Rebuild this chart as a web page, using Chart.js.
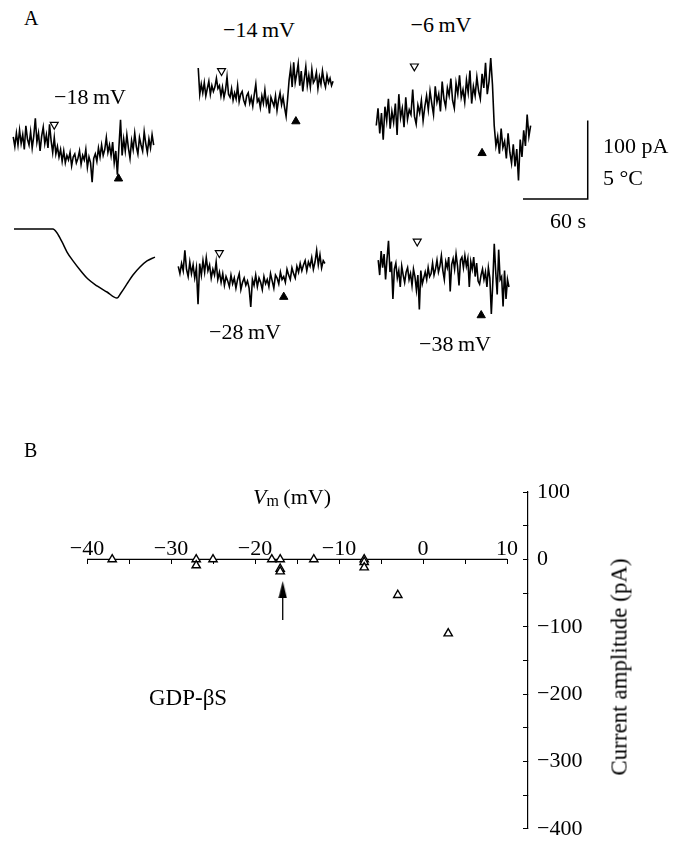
<!DOCTYPE html>
<html><head><meta charset="utf-8">
<script src="https://cdn.jsdelivr.net/npm/chart.js@4.4.1/dist/chart.umd.min.js"></script>
<style>
html,body{margin:0;padding:0;background:#fff;}
#fig{position:relative;width:674px;height:856px;overflow:hidden;font-family:"Liberation Serif","Times New Roman",serif;color:#000;background:#fff;}
.lbl{position:absolute;white-space:nowrap;line-height:1;transform:translate(-50%,-50%);font-size:22px;}
.lft{transform:translate(0,-50%);}
canvas{position:absolute;}
</style></head><body><div id="fig"></div>
<script>
// ---------------- DATA ----------------
// Panel A: membrane-current traces (pA, relative to start) at holding potentials
const traceLabels = ['\u221218\u2009mV', '\u221214\u2009mV', '\u22126\u2009mV', '\u221228\u2009mV', '\u221238\u2009mV'];
const traceDurations = [133, 128, 143, 138.6, 124.4]; // seconds spanned by each trace
const traceM18 = [5,-8,10,-6,14,-4,8,-12,20,2,-6,12,-10,6,30,-2,10,-14,6,18,
  -4,8,-10,22,0,-16,4,-18,-8,-22,-12,-28,-14,-30,-20,-26,-16,-34,-22,-18,
  -30,-24,-14,-32,-20,-26,-12,-36,-22,-30,-56,-24,-18,-28,-10,-22,-6,-20,-12,4,
  -16,-6,-20,-2,-30,-14,-46,-8,28,-20,2,-14,8,-10,-24,0,-12,10,-8,-18,
  4,-6,-14,12,-4,-16,2,-10,8,-6];
const traceM14 = [30,-6,8,-4,10,-8,2,12,-6,6,
  -2,4,16,2,6,-8,4,-10,0,18,
  -6,-10,2,-14,-4,-12,6,-16,-6,-2,
  -14,-20,-8,-4,-18,-10,-22,-6,8,-16,
  -12,-24,-8,-18,0,-20,-12,-32,-10,-16,
  -22,-8,-28,-14,-4,-20,-10,-24,-36,-12,
  14,30,4,38,10,22,36,6,26,-2,
  16,32,6,20,4,28,10,14,24,2,
  18,8,26,12,4,20,10,16,6,12];
const traceM6 = [-10,12,-20,6,-28,14,-4,24,-14,8,
  -6,18,-22,30,0,12,-12,26,-2,10,
  4,36,2,-8,16,6,22,-4,14,28,
  10,34,18,4,40,20,30,8,46,24,
  14,38,28,50,22,12,44,30,54,26,
  36,20,48,32,60,18,40,28,52,34,
  24,56,38,70,30,46,76,42,-10,-36,
  -24,-46,-14,-38,-30,-52,-20,-44,-58,-34,
  -62,-40,-80,-28,-50,-16,-36,4,-24,-10];
const traceM28 = [4,-6,8,-2,26,0,-10,10,-6,6,
  -12,2,-48,8,-8,12,-4,16,-2,6,
  -12,0,-8,10,-14,-4,-18,-6,-22,-10,
  -16,-24,-8,-20,-12,-26,-14,-6,-28,-18,
  -12,-22,-16,-26,-52,-14,-22,-8,-24,-12,
  -18,-28,-10,-20,-14,-24,-6,-16,-26,-8,
  -12,-20,-4,-14,-10,-18,0,-8,-14,2,
  -6,-12,4,-4,8,-2,6,12,-2,10,
  4,16,0,10,26,6,20,2,12,8];
const traceM38 = [6,-14,18,-4,14,-20,8,32,-10,4,
  -46,-6,2,-18,-8,-30,-2,-14,-24,-10,
  -4,-20,-12,-28,-6,-16,-34,-14,-60,-8,
  -26,-18,-10,-20,-4,-16,-12,2,-14,-6,
  6,-10,-2,12,-8,-20,4,-4,10,-36,
  0,8,-6,14,-2,-28,6,10,-4,12,
  -2,8,-30,4,-6,10,-16,2,-22,-26,
  -14,-6,-20,-10,-30,-4,-18,-66,-24,28,
  -10,-40,20,-20,-16,-56,-8,-46,-20,-30];
// open (▽) and filled (▲) markers: [time s, pA]
const openMarkers   = [[38.8,21.4],[22.1,26.2],[35.3,65.5],[38.8,22.6],[37.1,31]];
const filledMarkers = [[99.7,-51.2],[92.7,-42.9],[98,-45.2],[99.7,-38.1],[98,-67.9]];
// temperature protocol (°C relative to start)
const tempTime  = [0,34.4,38,42.4,46.8,52.1,58.3,65.3,73.3,82.1,90.9,94.4,99.7,105,111.2,117.4,124.4];
const tempDelta = [0,0,-0.24,-0.77,-1.37,-1.9,-2.44,-2.98,-3.39,-3.75,-4.11,-3.81,-3.27,-2.74,-2.26,-1.9,-1.67];
// scale bar
const scaleBarSeconds = 60, scaleBarPA = 100, scaleBarC = 5;

// Panel B: I–V relation (GDP-βS)
const vm  = [-37,-27,-27,-25,-18,-17,-17,-17,-13,-7,-7,-7,-3,3];
const amp = [0,0,-9,0,0,0,-14,-18,0,0,-4,-12,-53,-110];
const xTicks = [-40,-30,-20,-10,0,10];
const xTickLabels = ['\u221240','\u221230','\u221220','\u221210','0','10'];
const yTicks = [100,0,-100,-200,-300,-400];
const yTickLabels = ['100','0','\u2212100','\u2212200','\u2212300','\u2212400'];
const arrowVm = -16.7, arrowTail = -90, arrowHeadCenter = -44.7;

// ---------------- LAYOUT ----------------
const FONT = '"Liberation Serif","Times New Roman",serif';
const fig = document.getElementById('fig');
const PX_PER_S = 1.133, PX_PER_PA = 0.84, PX_PER_C = 16.8;
const traceLayout = [
  {rect:[0,95,170,100],  origin:[8,140]},
  {rect:[185,45,165,90], origin:[193,90]},
  {rect:[360,40,245,175],origin:[371,117]},
  {rect:[165,235,175,85],origin:[173,268]},
  {rect:[365,225,160,105],origin:[373,263]}
];
const tempLayout = {rect:[5,215,160,95], origin:[14,229]};
const scaleBarAnchor = {trace:2, t:195.9, y:-103.6};

function mkCanvas(r){
  const c=document.createElement('canvas');
  c.width=r[2]; c.height=r[3];
  c.style.left=r[0]+'px'; c.style.top=r[1]+'px';
  c.style.width=r[2]+'px'; c.style.height=r[3]+'px';
  fig.appendChild(c); return c;
}
function ranges(r,o,px,py){
  return {x:{type:'linear',display:false,min:(r[0]-o[0])/px,max:(r[0]+r[2]-o[0])/px},
          y:{type:'linear',display:false,min:(o[1]-r[1]-r[3])/py,max:(o[1]-r[1])/py}};
}
function baseOpts(scales){
  return {responsive:false,animation:false,events:[],devicePixelRatio:1,
    layout:{padding:0},plugins:{legend:{display:false},tooltip:{enabled:false}},scales};
}
const lineDs = (data,w)=>({data,showLine:true,borderColor:'#000',borderWidth:w,pointRadius:0,tension:0,clip:false,fill:false});

const traces=[traceM18,traceM14,traceM6,traceM28,traceM38];
traces.forEach((vals,k)=>{
  const L=traceLayout[k], dur=traceDurations[k];
  const pts=vals.map((v,i)=>({x:i*dur/(vals.length-1),y:v}));
  const ds=[
    {data:[{x:openMarkers[k][0],y:openMarkers[k][1]}],pointStyle:'triangle',rotation:180,pointRadius:4.6,
      backgroundColor:'#fff',borderColor:'#000',borderWidth:1.2,clip:false},
    {data:[{x:filledMarkers[k][0],y:filledMarkers[k][1]}],pointStyle:'triangle',rotation:0,pointRadius:4.8,
      backgroundColor:'#000',borderColor:'#000',borderWidth:1,clip:false},
    lineDs(pts,1.6)
  ];
  if(k===scaleBarAnchor.trace){
    const a=scaleBarAnchor;
    ds.push(lineDs([{x:a.t-scaleBarSeconds,y:a.y},{x:a.t,y:a.y},{x:a.t,y:a.y+scaleBarPA}],1.5));
  }
  new Chart(mkCanvas(L.rect),{type:'scatter',data:{datasets:ds},
    options:baseOpts(ranges(L.rect,L.origin,PX_PER_S,PX_PER_PA))});
});

new Chart(mkCanvas(tempLayout.rect),{type:'scatter',
  data:{datasets:[Object.assign(lineDs(tempTime.map((t,i)=>({x:t,y:tempDelta[i]})),1.5),{cubicInterpolationMode:'monotone'})]},
  options:baseOpts(ranges(tempLayout.rect,tempLayout.origin,PX_PER_S,PX_PER_C))});

// Panel B
const headImg=document.createElement('canvas'); headImg.width=9; headImg.height=17;
(function(){const g=headImg.getContext('2d');g.fillStyle='#000';g.beginPath();g.moveTo(4.5,0);g.lineTo(0.3,17);g.lineTo(8.7,17);g.closePath();g.fill();})();

const bRect=[0,440,674,416];
new Chart(mkCanvas(bRect),{type:'scatter',
  data:{datasets:[
    {data:vm.map((v,i)=>({x:v,y:amp[i]})),pointStyle:'triangle',pointRadius:4.8,backgroundColor:'#fff',
      borderColor:'#000',borderWidth:1.4,clip:false},
    {data:[{x:arrowVm,y:arrowHeadCenter}],pointStyle:headImg,pointRadius:5,clip:false},
    lineDs([{x:arrowVm,y:arrowTail},{x:arrowVm,y:arrowHeadCenter-6}],1.3),
    lineDs([{x:xTicks[0],y:0},{x:xTicks[xTicks.length-1],y:0}],1.2)
  ]},
  options:Object.assign(baseOpts({
    x:{type:'linear',min:-40,max:12.5,position:{y:0},
      afterFit:s=>{s.height=0;},
      border:{display:false},
      grid:{display:true,drawOnChartArea:false,drawTicks:true,tickLength:5,color:'#000',lineWidth:1},
      ticks:{stepSize:5,includeBounds:false,autoSkip:false,maxRotation:0,padding:-28,color:'#000',
        font:{family:FONT,size:22},
        callback:v=>{const i=xTicks.indexOf(v);return i>=0?xTickLabels[i]:'';}}},
    y:{type:'linear',min:-400,max:100,position:'right',
      afterFit:s=>{s.width=146;},
      border:{display:true,color:'#000',width:1.2},
      grid:{display:true,drawOnChartArea:false,drawTicks:true,tickLength:-5,color:'#000',lineWidth:1},
      ticks:{stepSize:50,includeBounds:false,autoSkip:false,padding:14,color:'#000',
        font:{family:FONT,size:22},
        callback:v=>{const i=yTicks.indexOf(v);return i>=0?yTickLabels[i]:'';}}}
  }),{layout:{padding:{left:87,top:52,right:0,bottom:8}}})
});

// ---------------- TEXT ----------------
function label(html,x,y,cls,extra){
  const d=document.createElement('div'); d.className='lbl'+(cls?' '+cls:''); d.innerHTML=html;
  d.style.left=x+'px'; d.style.top=y+'px'; if(extra) Object.assign(d.style,extra); fig.appendChild(d); return d;
}
label('A',24,18,'lft',{fontSize:'20px'});
label(traceLabels[0],90,97);
label(traceLabels[1],259,30);
label(traceLabels[2],441,25);
label(traceLabels[3],245,332);
label(traceLabels[4],455,344);
label(scaleBarPA+' pA',603,146,'lft');
label(scaleBarC+' \u00b0C',603,178,'lft');
label(scaleBarSeconds+' s',568,221);
label('B',24,450,'lft',{fontSize:'20px'});
label('<i>V</i><span style="font-size:16px;position:relative;top:2px">m</span>\u2009(mV)',253,497,'lft');
label('GDP-\u03b2S',149,697,'lft',{fontSize:'23px'});
label('Current amplitude (pA)',619,667,null,{fontSize:'23px',transform:'translate(-50%,-50%) rotate(-90deg)'});
</script></body></html>
